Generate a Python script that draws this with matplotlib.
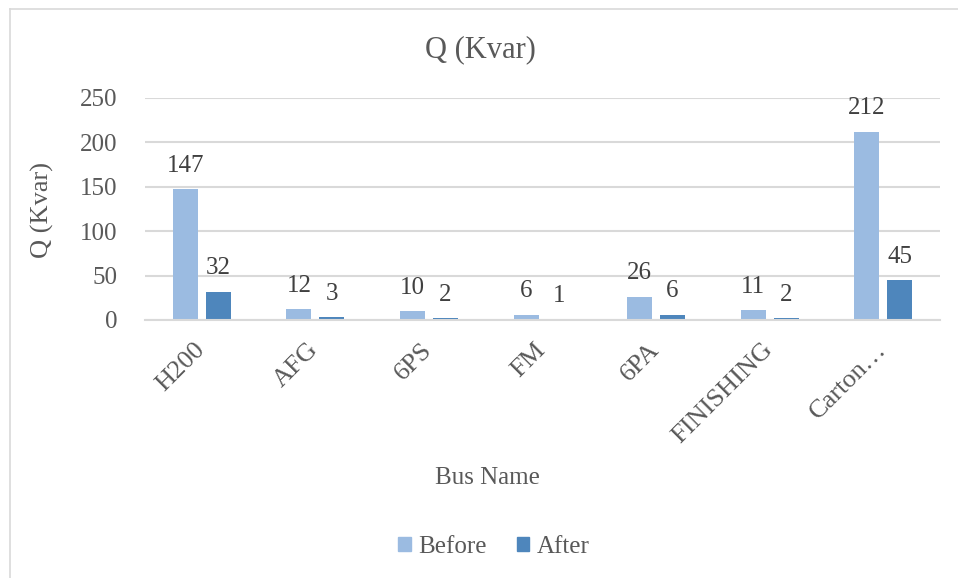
import matplotlib
matplotlib.use("Agg")
import matplotlib.pyplot as plt
from matplotlib.lines import Line2D
from matplotlib.patches import Patch
import numpy as np

categories = ["H200", "AFG", "6PS", "FM", "6PA", "FINISHING", "Carton\u2026"]
before = [147, 12, 10, 6, 26, 11, 212]
after = [32, 3, 2, 1, 6, 2, 45]
yticks = [0, 50, 100, 150, 200, 250]

c_before = "#9BBBE1"
c_after = "#4E86BC"
tick_col = "#595959"
lab_col = "#404040"
grid_col = "#D9D9D9"

plt.rcParams["font.family"] = ["Liberation Serif", "DejaVu Serif"]

fig = plt.figure(figsize=(9.58, 5.78), dpi=100)
ax = fig.add_axes([145/958, 1-320/578, (940-145)/958, (320-98)/578])

x = np.arange(len(categories))
w = 0.22
off = 0.145
b1 = ax.bar(x - off, before, w, color=c_before, label="Before", zorder=3)
b2 = ax.bar(x + off, after, w, color=c_after, label="After", zorder=3)

for bars, vals in ((b1, before), (b2, after)):
    for r, v in zip(bars, vals):
        ax.annotate(str(v), (r.get_x() + r.get_width()/2, r.get_height()),
                    xytext=(0, 9), textcoords="offset points",
                    ha="center", va="bottom", fontsize=18, color=lab_col)

ax.set_xlim(-0.5, len(categories) - 0.5)
ax.set_ylim(0, 250)
ax.set_yticks(yticks)
ax.set_yticklabels([str(t) for t in yticks], fontsize=18, color=tick_col)
ax.set_xticks(x)
ax.set_xticklabels(categories, fontsize=19, color=tick_col, rotation=45,
                   ha="right", va="center", rotation_mode="anchor")
ax.tick_params(axis="both", length=0)
ax.tick_params(axis="y", pad=20)
ax.tick_params(axis="x", pad=19)
ax.yaxis.grid(True, color=grid_col, linewidth=1.5, zorder=0)
for s in ("top", "right", "left"):
    ax.spines[s].set_visible(False)
ax.spines["bottom"].set_color(grid_col)
ax.spines["bottom"].set_linewidth(1.5)
ax.spines["bottom"].set_zorder(4)

fig.text(480/958, 1-50/578, "Q (Kvar)", ha="center", va="center", fontsize=22, color=tick_col)
fig.text(42/958, 1-210/578, "Q (Kvar)", ha="center", va="center", rotation=90, fontsize=19, color=tick_col)
fig.text(487/958, 1-478/578, "Bus Name", ha="center", va="center", fontsize=18, color=tick_col)

handles = [Patch(color=c_before, label="Before"), Patch(color=c_after, label="After")]
fig.legend(handles=handles, loc="center", bbox_to_anchor=(494/958, 1-547/578), ncol=2,
           frameon=False, fontsize=18, handlelength=0.5, handleheight=0.5,
           handletextpad=0.3, columnspacing=1.2, labelcolor=tick_col)

fig.add_artist(Line2D([9.5/958, 9.5/958], [0, 1-8.5/578], transform=fig.transFigure, color=grid_col, linewidth=1.2))
fig.add_artist(Line2D([9.5/958, 1], [1-8.5/578, 1-8.5/578], transform=fig.transFigure, color=grid_col, linewidth=1.2))

fig.savefig("out.png", dpi=100)
